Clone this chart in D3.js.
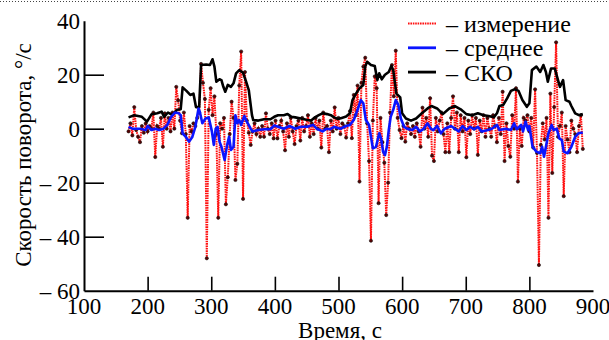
<!DOCTYPE html>
<html>
<head>
<meta charset="utf-8">
<script src="https://cdn.jsdelivr.net/npm/d3@7"></script>
</head>
<body style="margin:0;font-family:'Liberation Serif'">
<div id="chart"></div>
<script>
// measurement samples, one every 3 s starting at 170 s
const measStart = 170;
const measStep = 3;
const measValues = [
  -1, 2, -2.5, 8, -0.5, -3, -5, 1, -1.5, 2,
  -1, 1, 0, 6, -10.5, 1, 0, 4, -6.7, 5.7,
  0, 4, -1, 6, 0, 15.5, 10.5, 3, -1.7, 6,
  -2, -33, 1, -1, 2, 1, 4, 6, 24, 17,
  11, -48, 7, 15, 5, 12, -2, -33, 2, 0,
  4, -28, -18, -2, 10, 4, -19, -13, 16, 28.6,
  -26, 21, 3, -1.5, -6, -1, 2, -2, 0, -3,
  1, -3, 5.7, 0, -2, 2, -3.6, 3, -3.6, 1,
  3, -1, -8, 2, -3, 4, -1, -5.7, 1, 3,
  -4.4, 4, -1, 1, 5, -3, 2, -2, 4, 0,
  3, -7, 6, 0, 1, -8.7, 3, -1, 7.9, 0,
  4, -2, 2, 1, -3.3, 2, 6.5, -3.5, 12.5, 5,
  16, -19.6, 17, 23, 26.3, 2, -12, -41.5, 3, 19.4,
  15, -27.6, 4, -5, -12.6, -32, -20, 6, 23.6, 12,
  28.9, 4, -0.5, -3.5, 1, -4.8, 2, 0, -2, 1,
  -3, 2, -1, -6.7, 7.8, 0, 4, -3, 11.3, -10,
  -12, 4, -1, 3, 6, -2, -8.7, 2, -8.7, 4,
  12, 0, 6, -8.7, 5, -1, 4, -10.6, 3, -2,
  5, 0, 4, -9.7, 3, -1, 5, -3, 4, 0,
  -3, 5, 1, -5, 4, -2, 13.7, -12, 2, -6.4,
  -10.4, 5, 0, 15, -19.6, 0, -6.4, 4, 3, 5,
  -1, 4, -7, 14.6, -9, -50.5, -6, 2, -4, 4,
  -33, 13, -16.4, 8, 32, -3, 1, 6, -25, 1,
  -4, -8.7, 3, 0, -2, -8.7, 1, 5, -7.5
];

// running mean
const meanTimes = [170, 176, 188, 197, 200, 206, 212, 218, 225, 231, 237, 243, 249, 252, 255, 260, 265, 270, 275, 280,
  282, 286, 291, 296, 301, 304, 307, 310, 313, 316, 321, 325, 328, 331, 335, 338, 341, 344, 347, 352,
  356, 362, 365, 374, 383, 393, 399, 405, 414, 423, 432, 441, 451, 460, 466, 475, 481, 487, 493, 503,
  512, 518, 524, 530, 535, 539, 543, 548, 554, 559, 564, 567, 570, 573, 576, 579, 582, 586, 590, 594,
  598, 603, 608, 616, 622, 628, 634, 640, 645, 649, 655, 661, 667, 677, 683, 689, 695, 701, 707, 713,
  719, 725, 735, 741, 749, 753, 763, 771, 776, 780, 787, 790, 794, 798, 800, 805, 811, 817, 820, 823,
  826, 830, 835, 838, 843, 847, 851, 854, 860, 866, 872, 877, 881, 884];
const meanValues = [0.7, 0, 0, -0.5, 1, -0.5, 0, -0.5, 0, 1.4, 4.4, 6, 5.7, 5, -1.7, -3, -4.8, -3.2, 0.7, 7.5,
  6.3, 2, 3.8, 4.2, -1, -6, 0, 0.7, -4.8, -6.7, -11.6, -6, -3, -7.9, -6.7, 5, 2, 3.2, 1.4, 4.7,
  2.6, 0, -1, -0.5, -0.2, -0.2, 1.2, 0.7, 0, 1, 0, 0.7, 0.7, 1.4, 0, -1, 0, -0.2, 0.7, 0,
  1, 1.4, 3.2, 7, 10.6, 9.4, 3.2, 1.4, -7.3, -6.7, -1.7, -3.6, -8.5, -9.8, -6.7, -0.5, 4.4, 7, 10.6, 8.8,
  3.8, 0.7, 0, -0.5, 0.7, -1, 0, 2, 0, -0.5, 1, -1.7, 0, 1, 0, -1, 1, -0.5, 0.7, -0.2,
  0.7, -1, -0.5, 0, 1.4, -0.5, 0, -0.5, 2, -0.2, 1.4, -1, 2.6, -0.5, 1, -6.7, -8.5, -9.1, -6.7, -10.4,
  -6.7, -1.7, 1.4, -0.5, 0, -3.6, -4.2, -8.5, -9.1, -6.7, -3, -1.7, -1.5, -1.5];

// running standard deviation (СКО)
const stdTimes = [170, 179, 191, 199, 206, 215, 222, 226, 232, 239, 246, 252, 255, 261, 267, 272, 276, 281, 284, 292,
  298, 302, 305, 308, 313, 316, 319, 322, 326, 331, 335, 339, 344, 350, 354, 359, 364, 366, 374, 383,
  393, 399, 405, 414, 420, 426, 432, 441, 451, 457, 463, 469, 475, 482, 488, 493, 499, 505, 512, 518,
  522, 527, 533, 539, 542, 545, 551, 557, 561, 564, 568, 573, 579, 583, 586, 591, 597, 600, 606, 614,
  622, 631, 640, 646, 655, 664, 674, 683, 692, 701, 710, 719, 728, 736, 744, 749, 753, 759, 765, 771,
  777, 783, 789, 796, 800, 804, 811, 817, 822, 826, 829, 834, 840, 845, 848, 853, 857, 863, 866, 872,
  878, 884];
const stdValues = [4.2, 5, 4.4, 2.6, 5.3, 5.7, 6.3, 4.4, 6, 5, 7, 7.2, 15.3, 14, 12.5, 13, 8, 8, 23.6, 23.8,
  23.6, 25.7, 23, 17.4, 18.3, 18, 15.5, 13.7, 16.2, 15.5, 16.8, 20.5, 21.7, 20.7, 18, 14.3, 5, 3.2, 3, 3.5,
  3.5, 4.4, 5, 5, 5.4, 4.4, 4.2, 3.8, 3.2, 3, 4.2, 5, 5.7, 5.4, 5, 4.2, 3.6, 4, 4.5, 5.7,
  10.6, 12.8, 15, 16.2, 23, 24.8, 23.6, 23.2, 18, 20.5, 18.3, 20, 21, 23.2, 21.7, 13, 11.6, 5.7, 3.8, 3,
  3.8, 5.7, 7.5, 8.4, 7.5, 5.4, 7.5, 8.4, 7.2, 5.4, 5, 5.7, 5, 4.7, 4.2, 5.7, 8.4, 8.8, 11.2, 14,
  14.6, 14, 10.6, 8.1, 9.4, 21.7, 23, 21, 23.6, 21, 17.4, 22.3, 22.3, 18, 15.5, 18, 10.6, 10, 8.4, 5.7,
  5, 5.4];

const xTicks = [100, 200, 300, 400, 500, 600, 700, 800, 900];
const yTicks = [-60, -40, -20, 0, 20, 40];
const legendItems = ['– измерение', '– среднее', '– СКО'];

const width = 609, height = 340;
const serif = 'Liberation Serif';

const svg = d3.select('#chart').append('svg')
  .attr('width', width)
  .attr('height', height);

const x = d3.scaleLinear().domain([100, 900]).range([84, 593]);
const y = d3.scaleLinear().domain([-60, 40]).range([290.7, 20.7]);

// plain text helper, font set on the element itself
function label(parent, str, size) {
  return parent.append('text')
    .attr('font-family', serif)
    .style('font-family', serif)
    .attr('font-size', size)
    .attr('fill', '#000')
    .text(str);
}

// dotted frame edge along the top
svg.append('line')
  .attr('x1', 0).attr('x2', width)
  .attr('y1', 1.5).attr('y2', 1.5)
  .attr('stroke', '#444')
  .attr('stroke-width', 1)
  .attr('stroke-dasharray', '1,2');

const fmt = d => d < 0 ? '– ' + Math.abs(d) : String(d);

function drawAxes() {
  const gx = svg.append('g')
    .attr('transform', `translate(0,${y(-60)})`)
    .call(d3.axisBottom(x).tickValues(xTicks).tickSizeInner(-14).tickSizeOuter(0).tickFormat(''));
  const gy = svg.append('g')
    .attr('transform', `translate(${x(100)},0)`)
    .call(d3.axisLeft(y).tickValues(yTicks).tickSizeInner(-20).tickSizeOuter(0).tickFormat(''));

  [gx, gy].forEach(g => {
    g.attr('font-family', null).attr('font-size', null);
    g.select('.domain').attr('stroke', '#000').attr('stroke-width', 2);
    g.selectAll('.tick line').attr('stroke', '#000').attr('stroke-width', 1.6);
    g.selectAll('.tick text').remove();
  });
  // no tick marks at the ends of the axes
  gx.selectAll('.tick').filter(d => d === 100 || d === 900).select('line').remove();
  gy.selectAll('.tick').filter(d => d === -60 || d === 40).select('line').remove();

  // tick labels, positioned from the same scales
  xTicks.forEach(t => {
    label(svg, String(t), 23)
      .attr('x', x(t))
      .attr('y', y(-60) + 23)
      .attr('text-anchor', 'middle');
  });
  yTicks.forEach(t => {
    label(svg, fmt(t), 23)
      .attr('x', x(100) - 4)
      .attr('y', y(t) + 8)
      .attr('text-anchor', 'end');
  });

  label(svg, 'Время, с', 23)
    .attr('x', 340)
    .attr('y', 338)
    .attr('text-anchor', 'middle');

  label(svg, 'Скорость поворота, °/с', 23)
    .attr('transform', 'translate(31,155) rotate(-90)')
    .attr('text-anchor', 'middle');
}

function drawSeries() {
  const meas = measValues.map((v, i) => ({ t: measStart + i * measStep, v }));
  const mean = meanTimes.map((t, i) => ({ t, v: meanValues[i] }));
  const std = stdTimes.map((t, i) => ({ t, v: stdValues[i] }));

  const line = d3.line().x(d => x(d.t)).y(d => y(d.v));

  svg.append('path')
    .datum(meas)
    .attr('d', line)
    .attr('fill', 'none')
    .attr('stroke', '#ff1010')
    .attr('stroke-width', 2)
    .attr('stroke-dasharray', '1.6,0.8');

  svg.append('g')
    .selectAll('circle')
    .data(meas)
    .join('circle')
    .attr('cx', d => x(d.t))
    .attr('cy', d => y(d.v))
    .attr('r', 1.6)
    .attr('fill', '#5a0000')
    .attr('stroke', '#111')
    .attr('stroke-width', 0.6);

  svg.append('path')
    .datum(std)
    .attr('d', line)
    .attr('fill', 'none')
    .attr('stroke', '#000')
    .attr('stroke-width', 2.6)
    .attr('stroke-linejoin', 'round');

  svg.append('path')
    .datum(mean)
    .attr('d', line)
    .attr('fill', 'none')
    .attr('stroke', '#0a14ff')
    .attr('stroke-width', 2.6)
    .attr('stroke-linejoin', 'round');
}

function drawLegend() {
  const styles = [
    { color: '#ff1010', dash: '1.6,0.8' },
    { color: '#0a14ff', dash: null },
    { color: '#000', dash: null }
  ];
  legendItems.forEach((name, i) => {
    const ly = 23.5 + i * 24.3;
    svg.append('line')
      .attr('x1', 408).attr('x2', 436)
      .attr('y1', ly).attr('y2', ly)
      .attr('stroke', styles[i].color)
      .attr('stroke-width', i === 0 ? 2 : 2.8)
      .attr('stroke-dasharray', styles[i].dash);
    label(svg, name, 24)
      .attr('x', 446)
      .attr('y', ly + 8.5);
  });
}

drawSeries();
drawAxes();
drawLegend();
</script>
</body>
</html>
